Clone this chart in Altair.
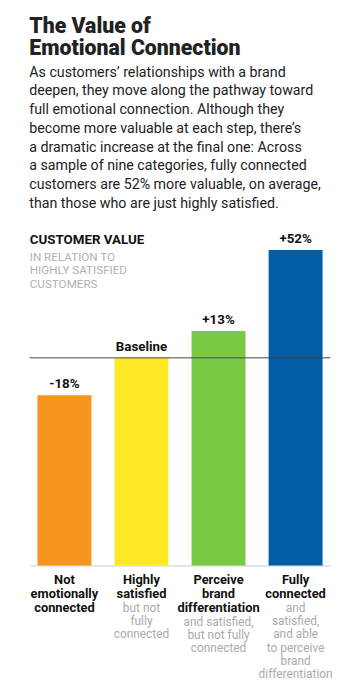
import altair as alt
import pandas as pd

FONT = "Roboto"

categories = ["Not emotionally connected", "Highly satisfied",
              "Perceive brand differentiation", "Fully connected"]
values = [82, 100, 113, 152]          # customer value index, highly satisfied = 100
value_labels = ["-18%", "Baseline", "+13%", "+52%"]
bold_labels = ["Not\nemotionally\nconnected", "Highly\nsatisfied",
               "Perceive\nbrand\ndifferentiation", "Fully\nconnected"]
gray_labels = ["", "but not\nfully\nconnected",
               "and satisfied,\nbut not fully\nconnected",
               "and\nsatisfied,\nand able\nto perceive\nbrand\ndifferentiation"]
colors = ["#F7941E", "#FDEA24", "#7AC943", "#015DA5"]
baseline_value = [100]

title_lines = ["The Value of", "Emotional Connection"]
body_lines = [
    "As customers\u2019 relationships with a brand",
    "deepen, they move along the pathway toward",
    "full emotional connection. Although they",
    "become more valuable at each step, there\u2019s",
    "a dramatic increase at the final one: Across",
    "a sample of nine categories, fully connected",
    "customers are 52% more valuable, on average,",
    "than those who are just highly satisfied.",
]
heading = "CUSTOMER VALUE"
subheading = "IN RELATION TO\nHIGHLY SATISFIED\nCUSTOMERS"

W, H = 304, 336

df = pd.DataFrame({
    "cat": categories,
    "value": values,
    "vlabel": value_labels,
    "bold": bold_labels,
    "gray": gray_labels,
    "nbold": [b.count("\n") + 1 for b in bold_labels],
})

xenc = alt.X("cat:N", sort=categories,
             scale=alt.Scale(paddingInner=0.3, paddingOuter=0.1),
             axis=alt.Axis(labels=False, ticks=False, title=None,
                           domainColor="#cccccc", domainWidth=1, grid=False))
yscale = alt.Scale(domain=[0, 160])

base = alt.Chart(df)

bars = base.mark_bar().encode(
    x=xenc,
    y=alt.Y("value:Q", scale=yscale, axis=None),
    color=alt.Color("cat:N", sort=categories,
                    scale=alt.Scale(domain=categories, range=colors), legend=None),
)

vlabels = base.mark_text(baseline="bottom", dy=-4, fontSize=13.5, fontWeight="bold",
                         font=FONT, color="#111111").encode(
    x=alt.X("cat:N", sort=categories),
    y=alt.Y("value:Q", scale=yscale),
    text="vlabel:N",
)

rule = alt.Chart(pd.DataFrame({"b": baseline_value})).mark_rule(
    color="#444444", strokeWidth=1).encode(y=alt.Y("b:Q", scale=yscale))

head = alt.Chart(pd.DataFrame({"t": [heading]})).mark_text(
    align="left", baseline="middle", fontSize=13.5, fontWeight="bold",
    font=FONT, color="#111111").encode(
    x=alt.value(0), y=alt.value(7), text="t:N")

subhead = alt.Chart(pd.DataFrame({"t": [subheading]})).mark_text(
    align="left", baseline="top", fontSize=11.8, lineHeight=13.5,
    lineBreak="\n", font=FONT, color="#b0b0b0").encode(
    x=alt.value(0), y=alt.value(19), text="t:N")

cat_bold = base.mark_text(align="center", baseline="top", fontSize=13,
                          fontWeight="bold", lineHeight=14, lineBreak="\n",
                          font=FONT, color="#111111").encode(
    x=alt.X("cat:N", sort=categories), y=alt.value(H + 9), text="bold:N")

gray2 = base.transform_filter("datum.nbold == 2").mark_text(
    align="center", baseline="top", fontSize=12, lineHeight=13.4,
    lineBreak="\n", font=FONT, color="#aaaaaa").encode(
    x=alt.X("cat:N", sort=categories), y=alt.value(H + 38), text="gray:N")

gray3 = base.transform_filter("datum.nbold == 3").mark_text(
    align="center", baseline="top", fontSize=12, lineHeight=13.4,
    lineBreak="\n", font=FONT, color="#aaaaaa").encode(
    x=alt.X("cat:N", sort=categories), y=alt.value(H + 52), text="gray:N")

chart = alt.layer(bars, rule, vlabels, head, subhead, cat_bold, gray2, gray3).properties(
    width=W, height=H,
    padding={"left": 21, "top": 3, "right": 20, "bottom": 0},
    title=alt.TitleParams(
        text=title_lines, subtitle=body_lines, anchor="start",
        font=FONT, fontSize=21.5, fontWeight=900, color="#222222",
        lineHeight=23, subtitleFont=FONT, subtitleFontSize=14.4,
        subtitleColor="#222222", subtitleLineHeight=19, subtitlePadding=6,
        offset=22,
    ),
).configure_view(stroke=None)

chart.save("out.html", embed_options={"renderer": "svg", "actions": False})
